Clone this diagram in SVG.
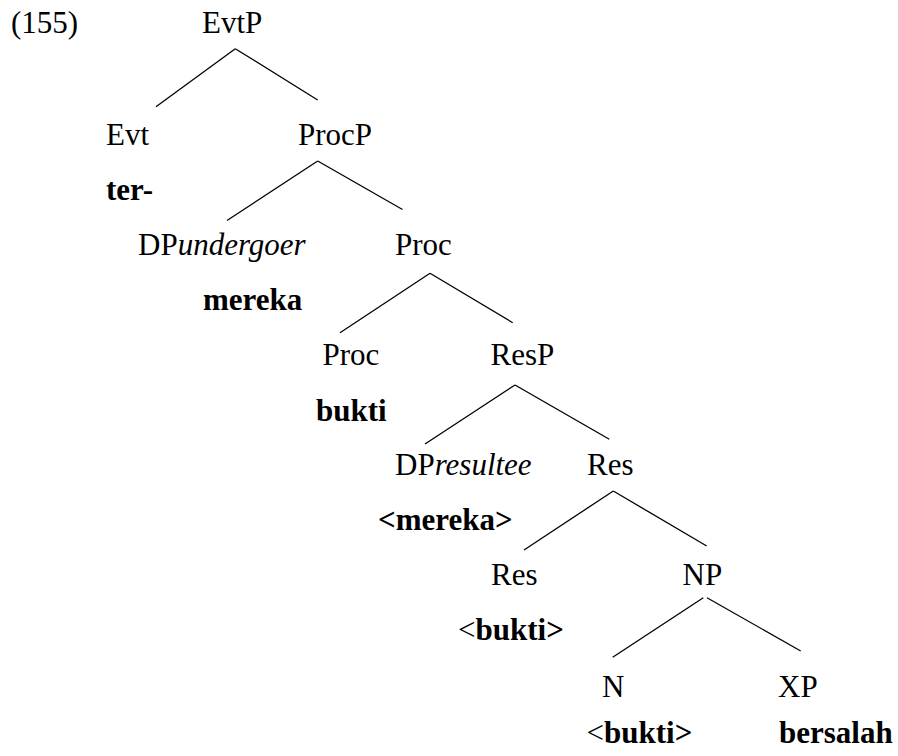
<svg xmlns="http://www.w3.org/2000/svg" width="898" height="756" viewBox="0 0 898 756">
  <style>
    text { font-family: 'Liberation Serif', 'DejaVu Serif', serif; font-size: 31px; fill: #000; }
    .lex { font-weight: bold; }
    .it { font-style: italic; }
    .edge { stroke: #000; stroke-width: 1.3; fill: none; }
  </style>
  <rect width="898" height="756" fill="#fff"/>

  <!-- example number -->
  <text id="exnum" x="11" y="33">(155)</text>

  <!-- tree branches -->
  <g id="connectors">
    <line class="edge" x1="235.3" y1="48.7" x2="156" y2="106.7"/>
    <line class="edge" x1="235.3" y1="48.7" x2="317.7" y2="100"/>
    <line class="edge" x1="317.7" y1="161" x2="227" y2="220.5"/>
    <line class="edge" x1="317.7" y1="161" x2="402.5" y2="209.5"/>
    <line class="edge" x1="430" y1="273.3" x2="340" y2="332.7"/>
    <line class="edge" x1="430" y1="273.3" x2="512.7" y2="322.7"/>
    <line class="edge" x1="515" y1="385" x2="425" y2="444"/>
    <line class="edge" x1="515" y1="385" x2="609.3" y2="439.3"/>
    <line class="edge" x1="613.3" y1="491" x2="524" y2="550"/>
    <line class="edge" x1="613.3" y1="491" x2="706.7" y2="546"/>
    <line class="edge" x1="703.3" y1="597.7" x2="612.7" y2="657.3"/>
    <line class="edge" x1="707" y1="597.7" x2="800.7" y2="651"/>
  </g>

  <!-- nodes: category label with the lexical item below it -->
  <g id="EvtP"><text x="202" y="33.3">EvtP</text></g>
  <g id="Evt"><text x="106" y="145">Evt</text><text class="lex" x="106" y="200">ter-</text></g>
  <g id="ProcP"><text x="298" y="145">ProcP</text></g>
  <g id="DPundergoer"><text x="138" y="255">DP<tspan class="it">undergoer</tspan></text><text class="lex" x="203" y="310">mereka</text></g>
  <g id="ProcBar"><text x="395" y="255">Proc</text></g>
  <g id="Proc"><text x="322.5" y="365">Proc</text><text class="lex" x="316" y="420.7">bukti</text></g>
  <g id="ResP"><text x="490.5" y="365">ResP</text></g>
  <g id="DPresultee"><text x="395" y="475">DP<tspan class="it">resultee</tspan></text><text class="lex" x="378" y="530">&lt;mereka&gt;</text></g>
  <g id="ResBar"><text x="587" y="475">Res</text></g>
  <g id="Res"><text x="491" y="585">Res</text><text x="458" y="640">&lt;<tspan class="lex">bukti&gt;</tspan></text></g>
  <g id="NP"><text x="682.5" y="585">NP</text></g>
  <g id="N"><text x="602" y="696.7">N</text><text x="586.5" y="743.3">&lt;<tspan class="lex">bukti&gt;</tspan></text></g>
  <g id="XP"><text x="778" y="696.7">XP</text><text class="lex" x="779" y="743.3">bersalah</text></g>
</svg>
